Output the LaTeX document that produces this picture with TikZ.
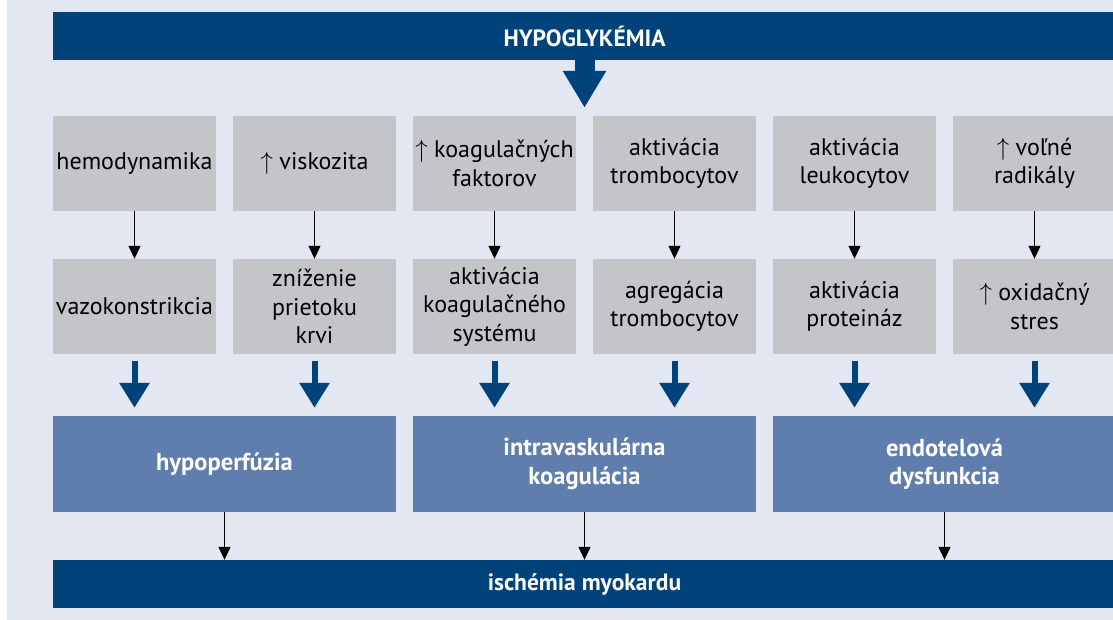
\documentclass[tikz,border=0pt]{standalone}
\usepackage{fontspec}
\setmainfont{PT Sans}
\usetikzlibrary{arrows.meta}
\definecolor{bgc}{HTML}{E3E7F1}
\definecolor{darkc}{HTML}{00437A}
\definecolor{midc}{HTML}{5F7EAD}
\definecolor{greyc}{HTML}{C4C5C9}
\begin{document}
\begin{tikzpicture}[x=1pt,y=-1pt,
  gbox/.style={fill=greyc, minimum width=163pt, minimum height=95pt, inner sep=0pt, align=center, text=black, font=\fontsize{24}{28.5}\selectfont},
  bbox/.style={fill=midc, minimum width=343pt, minimum height=96pt, inner sep=0pt, align=center, text=white, font=\fontsize{24.5}{28.5}\selectfont\bfseries},
  bar/.style={fill=darkc, minimum width=1063pt, minimum height=48pt, inner sep=0pt, text=white, font=\fontsize{23.5}{28}\selectfont\bfseries},
  thin/.style={line width=1.3pt, -{Triangle[width=12pt,length=13pt]}},
  thick/.style={draw=darkc, line width=6pt, -{Triangle[width=29pt,length=25pt]}, shorten <=7pt, shorten >=8pt},
  big/.style={draw=darkc, line width=20pt, -{Triangle[width=41pt,length=37pt]}, shorten >=8pt}
]
\useasboundingbox (0,0) rectangle (1113,620);
\fill[white] (0,0) rectangle (1113,620);
\fill[bgc] (7,0) rectangle (1113,620);

\node[bar] (top) at (584.5,36) {HYPOGLYKÉMIA};
\node[bar] (bot) at (584.5,584) {ischémia myokardu};

\node[gbox] (a1) at (134.5,163.5) {hemodynamika};
\node[gbox] (b1) at (314.5,163.5) {$\uparrow$ viskozita};
\node[gbox] (c1) at (494.5,163.5) {$\uparrow$ koagulačných\\faktorov};
\node[gbox] (d1) at (674.5,163.5) {aktivácia\\trombocytov};
\node[gbox] (e1) at (854.5,163.5) {aktivácia\\leukocytov};
\node[gbox] (f1) at (1034.5,163.5) {$\uparrow$ voľné\\radikály};

\node[gbox] (a2) at (134.5,306.5) {vazokonstrikcia};
\node[gbox] (b2) at (314.5,306.5) {zníženie\\prietoku\\krvi};
\node[gbox] (c2) at (494.5,306.5) {aktivácia\\koagulačného\\systému};
\node[gbox] (d2) at (674.5,306.5) {agregácia\\trombocytov};
\node[gbox] (e2) at (854.5,306.5) {aktivácia\\proteináz};
\node[gbox] (f2) at (1034.5,306.5) {$\uparrow$ oxidačný\\stres};

\node[bbox] (p1) at (224.5,464) {hypoperfúzia};
\node[bbox] (p2) at (584.5,464) {intravaskulárna\\koagulácia};
\node[bbox] (p3) at (944.5,464) {endotelová\\dysfunkcia};

\draw[big] (top.south) -- (top.south |- c1.north);

\foreach \n in {a,b,c,d,e,f} {
  \draw[thin] (\n1.south) -- (\n2.north);
}
\draw[thick] (a2.south) -- (a2.south |- p1.north);
\draw[thick] (b2.south) -- (b2.south |- p1.north);
\draw[thick] (c2.south) -- (c2.south |- p2.north);
\draw[thick] (d2.south) -- (d2.south |- p2.north);
\draw[thick] (e2.south) -- (e2.south |- p3.north);
\draw[thick] (f2.south) -- (f2.south |- p3.north);

\draw[thin] (p1.south) -- (p1.south |- bot.north);
\draw[thin] (p2.south) -- (p2.south |- bot.north);
\draw[thin] (p3.south) -- (p3.south |- bot.north);
\end{tikzpicture}
\end{document}
